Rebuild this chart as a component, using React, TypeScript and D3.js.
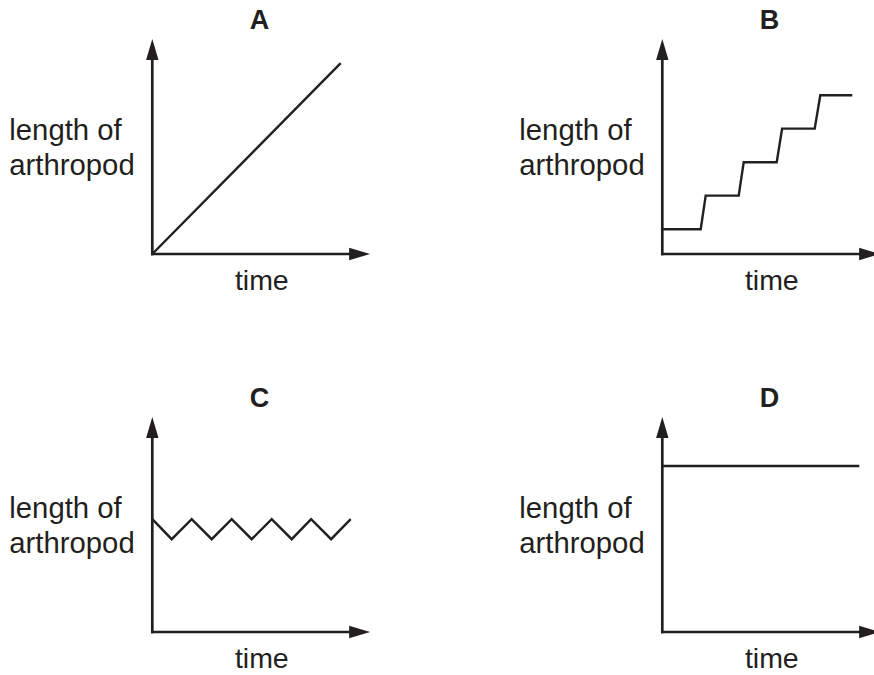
import React from "react";
import * as d3 from "d3";

const W = 874;
const H = 675;

const panelTitles = ["A", "B", "C", "D"];
const yLabelLines = ["length of", "arthropod"];
const xLabel = "time";

// Series values in panel units (x: time 0..100, y: length 0..100)
const seriesA: [number, number][] = [
  [0, 0],
  [94.2, 95.4],
];
const seriesB: [number, number][] = [
  [0, 12.4], [19.2, 12.4], [21.7, 29.2], [38.2, 29.2], [40.7, 45.9],
  [57.2, 45.9], [59.9, 62.7], [76.2, 62.7], [79, 79.4], [95, 79.4],
];
const seriesC: [number, number][] = [
  [0, 56.4], [9.7, 46.4], [19.7, 56.4], [29.7, 46.4], [39.7, 56.4],
  [49.7, 46.4], [59.7, 56.4], [69.7, 46.4], [79.4, 56.4], [89.4, 46.4],
  [99.2, 56.4],
];
const seriesD: [number, number][] = [
  [0, 83],
  [98.5, 83],
];
const allSeries = [seriesA, seriesB, seriesC, seriesD];

const axisXMax = 108.9;
const axisYMax = 107.5;

const origins: [number, number][] = [
  [152.3, 254],
  [662.3, 254],
  [152.3, 632],
  [662.3, 632],
];

const INK = "#231f20";
const FONT = "'Liberation Sans', Arial, Helvetica, sans-serif";

function Panel({ idx }: { idx: number }) {
  const [ox, oy] = origins[idx];
  const x = d3.scaleLinear().domain([0, 100]).range([ox, ox + 200]);
  const y = d3.scaleLinear().domain([0, 100]).range([oy, oy - 200]);
  const line = d3
    .line<[number, number]>()
    .x((d) => x(d[0]))
    .y((d) => y(d[1]));

  const xTip = x(axisXMax);
  const yTip = y(axisYMax);
  const headLen = 21;
  const headHalf = 6.2;

  return (
    <g>
      <text
        x={ox + 107.2}
        y={oy - 225}
        textAnchor="middle"
        fontFamily={FONT}
        fontWeight="bold"
        fontSize={27}
        fill={INK}
      >
        {panelTitles[idx]}
      </text>
      {yLabelLines.map((t, i) => (
        <text
          key={t}
          x={ox - 143}
          y={oy - 114 + i * 35}
          fontFamily={FONT}
          fontSize={29.3}
          fill={INK}
        >
          {t}
        </text>
      ))}
      <text
        x={ox + 109.5}
        y={oy + 36}
        textAnchor="middle"
        fontFamily={FONT}
        fontSize={28.5}
        fill={INK}
      >
        {xLabel}
      </text>
      {/* y axis */}
      <line
        x1={x(0)}
        y1={y(0) + 1.3}
        x2={x(0)}
        y2={yTip + headLen - 2}
        stroke={INK}
        strokeWidth={2.7}
      />
      <path
        d={`M${x(0)},${yTip} L${x(0) - headHalf},${yTip + headLen} L${x(0) + headHalf},${yTip + headLen} Z`}
        fill={INK}
      />
      {/* x axis */}
      <line
        x1={x(0) - 1.3}
        y1={y(0)}
        x2={xTip - headLen + 2}
        y2={y(0)}
        stroke={INK}
        strokeWidth={2.7}
      />
      <path
        d={`M${xTip},${y(0)} L${xTip - headLen},${y(0) - headHalf} L${xTip - headLen},${y(0) + headHalf} Z`}
        fill={INK}
      />
      <path
        d={line(allSeries[idx]) || ""}
        fill="none"
        stroke={INK}
        strokeWidth={2.4}
        strokeLinejoin="miter"
      />
    </g>
  );
}

export default function App() {
  return (
    <div style={{ position: "absolute", left: 0, top: 0, width: W, height: H, background: "#fff" }}>
      <svg width={W} height={H} style={{ display: "block" }}>
        <rect width={W} height={H} fill="#fff" />
        {panelTitles.map((_, i) => (
          <Panel key={i} idx={i} />
        ))}
      </svg>
    </div>
  );
}
